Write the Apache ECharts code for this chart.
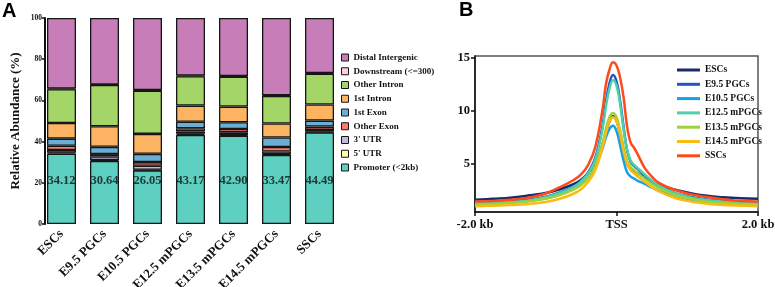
<!DOCTYPE html>
<html>
<head>
<meta charset="utf-8">
<script src="https://cdn.jsdelivr.net/npm/echarts@6/dist/echarts.min.js"></script>
<style>
  html, body { margin: 0; padding: 0; background: #fff; }
  #chart { width: 775px; height: 287px; }
</style>
</head>
<body>
<div id="chart"></div>
<script>
// ---- panel A: genomic annotation (%), bottom to top ----
var categories = ['ESCs', 'E9.5 PGCs', 'E10.5 PGCs', 'E12.5 mPGCs', 'E13.5 mPGCs', 'E14.5 mPGCs', 'SSCs'];
var promoter = [34.12, 30.64, 26.05, 43.17, 42.90, 33.47, 44.49];
var utr5 = [0.5, 0.4, 0.3, 0.6, 0.3, 0.4, 0.3];
var utr3 = [1.3, 1.7, 1.9, 1.2, 1.3, 1.3, 0.9];
var otherExon = [2.1, 1.2, 1.8, 1.5, 1.6, 2.2, 1.6];
var firstExon = [3.4, 3.5, 4.0, 3.2, 3.3, 4.6, 2.9];
var firstIntron = [7.6, 10.0, 9.7, 7.8, 7.6, 6.8, 7.8];
var otherIntron = [16.4, 20.0, 21.0, 14.3, 14.5, 13.4, 15.0];
var downstream = [0.3, 0.3, 0.3, 0.3, 0.3, 0.3, 0.3];
var distal = [34.28, 32.26, 34.95, 27.93, 28.2, 37.53, 26.71];
var yTicksA = [0, 20, 40, 60, 80, 100];
var labelLevel = 21; // height where promoter % is printed

// ---- panel B: TSS profile ----
var positions = [-2000, -1750, -1500, -1250, -1000, -800, -600, -500, -400, -300, -200, -150, -100, -50, 0,
                 50, 100, 150, 200, 250, 300, 400, 500, 600, 800, 1000, 1250, 1500, 1750, 2000];
var escs  = [1.6, 1.7, 1.8, 2.0, 2.25, 2.6, 3.1, 3.5, 4.1, 5.0, 6.8, 8.0, 9.0, 9.5, 9.1,
             7.8, 6.2, 5.0, 4.5, 4.3, 4.1, 3.7, 3.3, 3.0, 2.6, 2.3, 2.0, 1.85, 1.75, 1.7];
var e95   = [1.3, 1.35, 1.45, 1.6, 1.9, 2.3, 2.9, 3.4, 4.2, 5.6, 8.5, 10.8, 12.6, 13.4, 12.8,
             11.0, 8.5, 6.3, 5.2, 4.8, 4.5, 3.9, 3.4, 2.9, 2.3, 1.95, 1.65, 1.5, 1.4, 1.35];
var e105  = [1.2, 1.25, 1.35, 1.5, 1.75, 2.1, 2.65, 3.05, 3.7, 4.7, 6.4, 7.5, 8.3, 8.6, 8.1,
             6.8, 5.3, 4.2, 3.8, 3.6, 3.4, 3.1, 2.75, 2.45, 2.0, 1.7, 1.45, 1.3, 1.25, 1.2];
var e125  = [1.25, 1.3, 1.4, 1.55, 1.85, 2.25, 2.85, 3.35, 4.1, 5.4, 8.2, 10.4, 12.1, 12.9, 12.4,
             10.7, 8.3, 6.3, 5.3, 4.9, 4.6, 4.0, 3.4, 2.95, 2.3, 1.9, 1.6, 1.45, 1.35, 1.3];
var e135  = [1.15, 1.2, 1.3, 1.45, 1.7, 2.05, 2.6, 3.0, 3.7, 4.8, 6.9, 8.3, 9.4, 9.8, 9.4,
             8.2, 6.6, 5.3, 4.7, 4.4, 4.1, 3.6, 3.1, 2.7, 2.1, 1.75, 1.45, 1.3, 1.2, 1.15];
var e145  = [1.0, 1.05, 1.1, 1.2, 1.4, 1.7, 2.2, 2.6, 3.3, 4.4, 6.5, 7.9, 9.0, 9.4, 9.0,
             7.8, 6.2, 5.0, 4.4, 4.1, 3.8, 3.3, 2.8, 2.4, 1.85, 1.5, 1.25, 1.12, 1.05, 1.0];
var sscs  = [1.45, 1.5, 1.6, 1.8, 2.2, 2.8, 3.5, 4.0, 4.9, 6.6, 10.0, 12.5, 13.9, 14.6, 14.3,
             13.2, 11.3, 8.5, 7.0, 6.5, 5.9, 4.6, 3.8, 3.2, 2.6, 2.2, 1.9, 1.65, 1.5, 1.45];
var xTicksB = [-2000, 0, 2000];
var xTickNamesB = ['-2.0 kb', 'TSS', '2.0 kb'];
var yTicksB = [5, 10, 15];

var serif = 'Liberation Serif';
var chart = echarts.init(document.getElementById('chart'));

var stackDefs = [
    ['Promoter (<2kb)', promoter, '#5dd0c1'],
    ["5' UTR", utr5, '#ffffb3'],
    ["3' UTR", utr3, '#bebada'],
    ['Other Exon', otherExon, '#fb7b6e'],
    ['1st Exon', firstExon, '#6aaed4'],
    ['1st Intron', firstIntron, '#fdb462'],
    ['Other Intron', otherIntron, '#a3d667'],
    ['Downstream (<=300)', downstream, '#fccde5'],
    ['Distal Intergenic', distal, '#c77db8']
];
var series = stackDefs.map(function (d) {
    return {
        name: d[0],
        type: 'bar',
        stack: 'anno',
        xAxisIndex: 0,
        yAxisIndex: 0,
        barWidth: 29,
        data: d[1],
        itemStyle: { color: d[2], borderColor: '#161616', borderWidth: 1.3 }
    };
});
// promoter percentages printed at a fixed height
series.push({
    type: 'scatter',
    xAxisIndex: 0,
    yAxisIndex: 0,
    symbolSize: 0,
    silent: true,
    data: categories.map(function (c, i) { return [c, labelLevel, promoter[i]]; }),
    label: {
        show: true,
        position: 'inside',
        formatter: function (p) { return p.value[2].toFixed(2); },
        fontFamily: serif, fontWeight: 'bold', fontSize: 12.5, color: '#111'
    }
});

var lineDefs = [
    ['ESCs', escs, '#1b2a6b'],
    ['E9.5 PGCs', e95, '#1f56c0'],
    ['E10.5 PGCs', e105, '#12a2ec'],
    ['E12.5 mPGCs', e125, '#4fd0aa'],
    ['E13.5 mPGCs', e135, '#9fd13c'],
    ['E14.5 mPGCs', e145, '#fdbb10'],
    ['SSCs', sscs, '#ff4a1c']
];
lineDefs.forEach(function (d) {
    series.push({
        name: d[0],
        type: 'line',
        xAxisIndex: 1,
        yAxisIndex: 1,
        smooth: 0.4,
        symbol: 'none',
        data: positions.map(function (x, i) { return [x, d[1][i]]; }),
        lineStyle: { color: d[2], width: 2.5 },
        itemStyle: { color: d[2] }
    });
});

var option = {
    animation: false,
    backgroundColor: '#fff',
    graphic: [
        { type: 'text', left: 2, top: 1, style: { text: 'A', font: 'bold 20px "Liberation Sans"', fill: '#000' } },
        { type: 'text', left: 459, top: 0, style: { text: 'B', font: 'bold 20px "Liberation Sans"', fill: '#000' } }
    ],
    legend: [
        {
            orient: 'vertical',
            left: 336, top: 48,
            itemWidth: 7, itemHeight: 7, itemGap: 4.75,
            icon: 'rect',
            itemStyle: { borderColor: '#161616', borderWidth: 1 },
            textStyle: { fontFamily: serif, fontWeight: 'bold', fontSize: 9, color: '#111' },
            data: stackDefs.map(function (d) { return d[0]; }).reverse()
        },
        {
            orient: 'vertical',
            left: 672, top: 60,
            itemWidth: 23, itemHeight: 3, itemGap: 4.3,
            icon: 'rect',
            textStyle: { fontFamily: serif, fontWeight: 'bold', fontSize: 9.5, color: '#111' },
            data: lineDefs.map(function (d) { return d[0]; })
        }
    ],
    grid: [
        { left: 40, top: 18, width: 301, bottom: 63, outerBoundsMode: 'none' },
        { left: 475, top: 56, right: 17, bottom: 75, outerBoundsMode: 'none', show: true, borderColor: '#555', borderWidth: 1.5 }
    ],
    xAxis: [
        {
            type: 'category',
            gridIndex: 0,
            data: categories,
            axisLine: { show: false },
            axisTick: { show: false },
            axisLabel: { rotate: 45, margin: 8, fontFamily: serif, fontWeight: 'bold', fontSize: 13, color: '#111' }
        },
        {
            type: 'value',
            gridIndex: 1,
            min: -2000, max: 2000,
            splitLine: { show: false },
            axisLine: { onZero: false, lineStyle: { color: '#111', width: 1.5 } },
            axisTick: { customValues: xTicksB, length: 4, lineStyle: { color: '#111', width: 1.5 } },
            axisLabel: {
                customValues: xTicksB, margin: 6,
                formatter: function (v) { return xTickNamesB[xTicksB.indexOf(v)]; },
                fontFamily: serif, fontWeight: 'bold', fontSize: 12.5, color: '#111'
            }
        }
    ],
    yAxis: [
        {
            type: 'value',
            gridIndex: 0,
            min: 0, max: 100, interval: 20,
            offset: -5,
            name: 'Relative Abundance (%)',
            nameLocation: 'middle',
            nameGap: 23,
            nameTextStyle: { fontFamily: serif, fontWeight: 'bold', fontSize: 13, color: '#111' },
            splitLine: { show: false },
            axisLine: { show: true, lineStyle: { color: '#111', width: 2 } },
            axisTick: { show: true, length: 3, lineStyle: { color: '#111', width: 1.5 } },
            axisLabel: { customValues: yTicksA, margin: 3, fontFamily: serif, fontWeight: 'bold', fontSize: 7.5, color: '#111' }
        },
        {
            type: 'value',
            gridIndex: 1,
            min: 0.45, max: 15.2,
            splitLine: { show: false },
            axisLine: { show: true, onZero: false, lineStyle: { color: '#111', width: 1.5 } },
            axisTick: { show: true, customValues: yTicksB, length: 4, lineStyle: { color: '#111', width: 1.5 } },
            axisLabel: { customValues: yTicksB, margin: 5, fontFamily: serif, fontWeight: 'bold', fontSize: 12.5, color: '#111' }
        }
    ],
    series: series
};
chart.setOption(option);
</script>
</body>
</html>
